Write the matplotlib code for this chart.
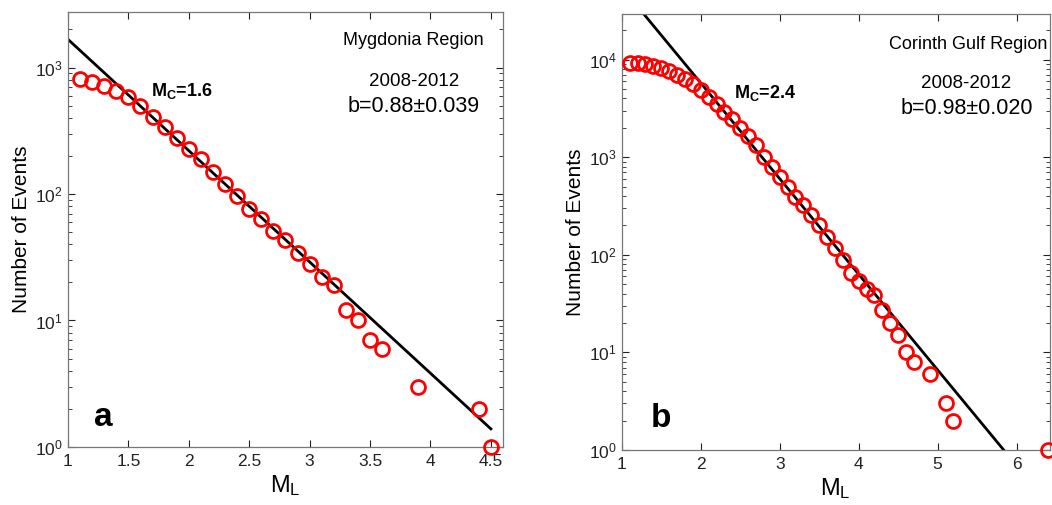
import matplotlib
matplotlib.use("Agg")
import matplotlib.pyplot as plt
import numpy as np

plt.rcParams['font.family'] = ['Liberation Sans', 'DejaVu Sans']
plt.rcParams['mathtext.fontset'] = 'custom'
plt.rcParams['mathtext.rm'] = 'Liberation Sans'
plt.rcParams['mathtext.it'] = 'Liberation Sans'
plt.rcParams['mathtext.bf'] = 'Liberation Sans:bold'

# Panel a: Mygdonia Region, cumulative number of events
mag_a = [1.1, 1.2, 1.3, 1.4, 1.5, 1.6, 1.7, 1.8, 1.9, 2.0, 2.1, 2.2, 2.3, 2.4, 2.5,
         2.6, 2.7, 2.8, 2.9, 3.0, 3.1, 3.2, 3.3, 3.4, 3.5, 3.6, 3.9, 4.4, 4.5]
count_a = [810, 773, 718, 656, 588, 496, 409, 340, 275, 225, 188, 148, 119, 96, 76,
           64, 51, 43, 34, 28, 22, 19, 12, 10, 7, 6, 3, 2, 1]
a_val_a, b_val_a = 4.103, 0.88
fit_range_a = [1.0, 4.5]

# Panel b: Corinth Gulf Region
mag_b = [1.1, 1.2, 1.3, 1.4, 1.5, 1.6, 1.7, 1.8, 1.9, 2.0, 2.1, 2.2, 2.3, 2.4, 2.5,
         2.6, 2.7, 2.8, 2.9, 3.0, 3.1, 3.2, 3.3, 3.4, 3.5, 3.6, 3.7, 3.8, 3.9, 4.0,
         4.1, 4.2, 4.3, 4.4, 4.5, 4.6, 4.7, 4.9, 5.1, 5.2, 6.4]
count_b = [9300, 9160, 8940, 8600, 8140, 7640, 7010, 6330, 5620, 4880, 4110, 3480,
           2930, 2440, 2010, 1650, 1334, 1012, 800, 632, 500, 394, 324, 256, 202,
           153, 116, 88, 65, 54, 45, 39, 27, 20, 15, 10, 8, 6, 3, 2, 1]
a_val_b, b_val_b = 5.72, 0.98
fit_range_b = [1.0, 6.0]

fig = plt.figure(figsize=(10.52, 5.05), dpi=100)
ax1 = fig.add_axes([0.0646, 0.1149, 0.4135, 0.8614])
ax2 = fig.add_axes([0.591, 0.1089, 0.4069, 0.8634])


def style_axes(ax):
    ax.set_yscale('log')
    ax.tick_params(which='both', direction='in', top=True, right=True,
                   labelsize=12.5, colors='#222222')
    ax.tick_params(which='major', length=5)
    ax.tick_params(which='minor', length=3)
    ax.tick_params(axis='x', which='minor', bottom=False, top=False)
    ax.tick_params(axis='x', pad=5)
    for sp in ax.spines.values():
        sp.set_color('#777777')
        sp.set_linewidth(0.9)
    ax.set_ylabel('Number of Events', fontsize=15)
    ax.set_xlabel(r'$\mathregular{M_L}$', fontsize=17, labelpad=3)


for ax, mags, counts, a_v, b_v, fr in [
        (ax1, mag_a, count_a, a_val_a, b_val_a, fit_range_a),
        (ax2, mag_b, count_b, a_val_b, b_val_b, fit_range_b)]:
    fx = np.array(fr)
    ax.plot(fx, 10 ** (a_v - b_v * fx), color='black', lw=2.0, zorder=2)
    ax.plot(mags, counts, 'o', mfc='none', mec='#ff0000', ms=10, mew=2,
            zorder=3, clip_on=False)
    style_axes(ax)

ax1.set_xlim(1, 4.6)
ax1.set_ylim(1, 2750)
ax1.set_xticks([1, 1.5, 2, 2.5, 3, 3.5, 4, 4.5])
ax1.set_xticklabels(['1', '1.5', '2', '2.5', '3', '3.5', '4', '4.5'])
ax1.yaxis.labelpad = 3

ax2.set_xlim(1, 6.42)
ax2.set_ylim(1, 29300)
ax2.set_xticks([1, 2, 3, 4, 5, 6])
ax2.yaxis.labelpad = 3

# annotations panel a
ax1.text(0.955, 0.935, 'Mygdonia Region', transform=ax1.transAxes,
         ha='right', va='center', fontsize=13)
ax1.text(0.795, 0.84, '2008-2012', transform=ax1.transAxes,
         ha='center', va='center', fontsize=13.5)
ax1.text(0.795, 0.783, 'b=0.88\u00b10.039', transform=ax1.transAxes,
         ha='center', va='center', fontsize=15.5)
ax1.text(0.19, 0.818, r'$\mathbf{M_C}$=1.6', transform=ax1.transAxes,
         ha='left', va='center', fontsize=13, fontweight='bold')
ax1.text(0.06, 0.068, 'a', transform=ax1.transAxes, ha='left', va='center',
         fontsize=24, fontweight='bold')

# annotations panel b
ax2.text(0.995, 0.93, 'Corinth Gulf Region', transform=ax2.transAxes,
         ha='right', va='center', fontsize=13)
ax2.text(0.805, 0.84, '2008-2012', transform=ax2.transAxes,
         ha='center', va='center', fontsize=13.5)
ax2.text(0.805, 0.783, 'b=0.98\u00b10.020', transform=ax2.transAxes,
         ha='center', va='center', fontsize=15.5)
ax2.text(0.263, 0.818, r'$\mathbf{M_C}$=2.4', transform=ax2.transAxes,
         ha='left', va='center', fontsize=13, fontweight='bold')
ax2.text(0.068, 0.073, 'b', transform=ax2.transAxes, ha='left', va='center',
         fontsize=24, fontweight='bold')

fig.savefig('out.png', dpi=100)
